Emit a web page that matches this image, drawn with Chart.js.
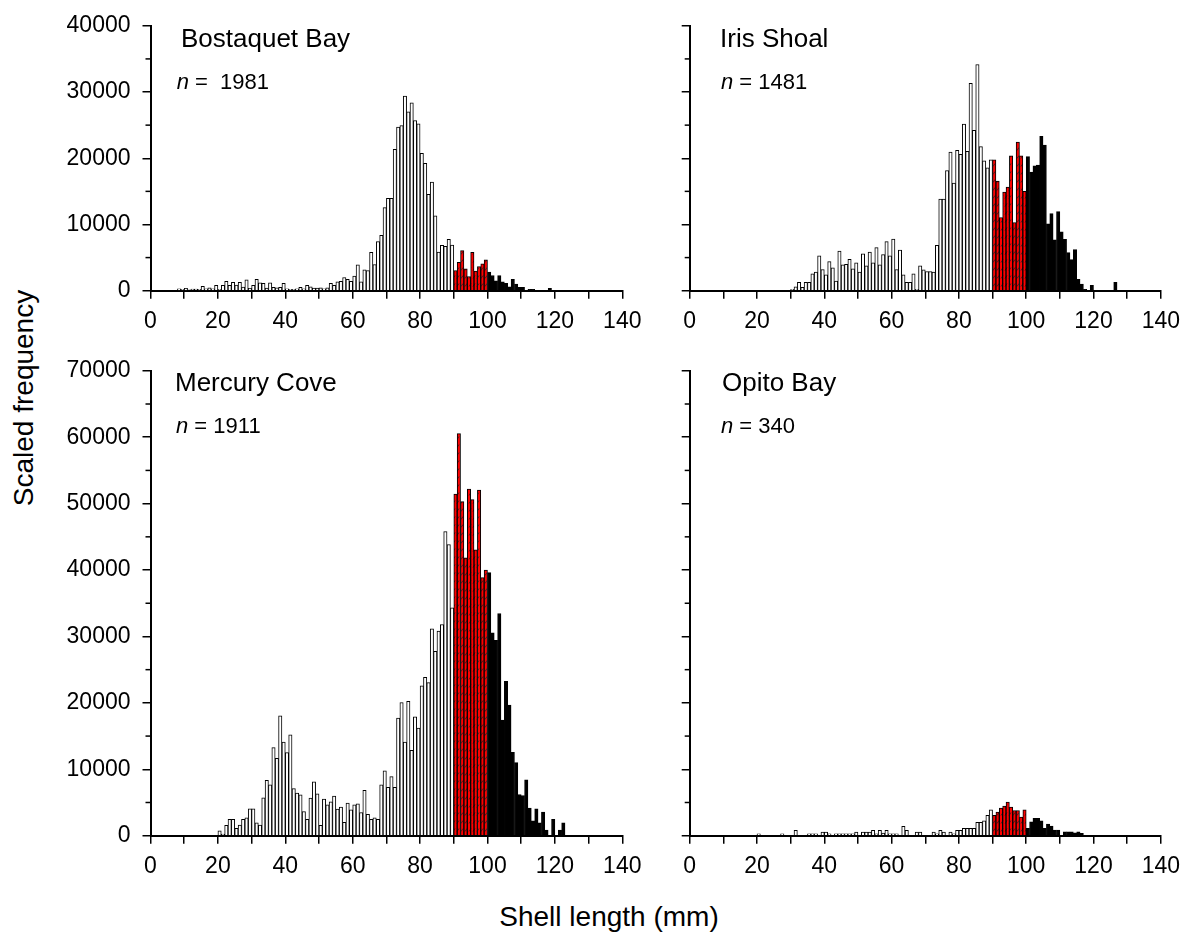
<!DOCTYPE html>
<html>
<head>
<meta charset="utf-8">
<script src="https://cdn.jsdelivr.net/npm/chart.js@4.4.0/dist/chart.umd.min.js"></script>
<style>
  body { margin: 0; background: #fff; width: 1189px; height: 936px; position: relative; overflow: hidden;
         font-family: 'Liberation Sans', Arial, sans-serif; color: #000; }
  canvas { position: absolute; }
  .lbl { position: absolute; white-space: pre; line-height: 1; }
  .title { font-size: 26px; }
  .n { font-size: 22px; }
  .axis { font-size: 28px; }
</style>
</head>
<body>
<canvas id="bostaquet" width="620" height="345" style="left:40px;top:0px"></canvas>
<canvas id="iris" width="529" height="345" style="left:660px;top:0px"></canvas>
<canvas id="mercury" width="620" height="545" style="left:40px;top:345px"></canvas>
<canvas id="opito" width="529" height="545" style="left:660px;top:345px"></canvas>

<div class="lbl title" style="left:181px;top:24.7px">Bostaquet Bay</div>
<div class="lbl n" style="left:176.7px;top:70.7px"><i>n</i> =  1981</div>
<div class="lbl title" style="left:720px;top:24.7px">Iris Shoal</div>
<div class="lbl n" style="left:721px;top:70.7px"><i>n</i> = 1481</div>
<div class="lbl title" style="left:175px;top:368.7px">Mercury Cove</div>
<div class="lbl n" style="left:176px;top:414.7px"><i>n</i> = 1911</div>
<div class="lbl title" style="left:722px;top:368.7px">Opito Bay</div>
<div class="lbl n" style="left:721px;top:414.7px"><i>n</i> = 340</div>
<div class="lbl axis" style="left:609px;top:903.3px;transform:translateX(-50%)">Shell length (mm)</div>
<div class="lbl axis" style="left:24.3px;top:398px;transform:translate(-50%,-50%) rotate(-90deg)">Scaled frequency</div>

<script>
// shell length bins are 1 mm wide; counts are scaled frequencies per bin
const bostaquetFirstBin = 8;
const bostaquetCounts = [
  300, 200, 350, 150, 250, 250, 200, 650, 300, 450, 300, 800,          // 8-19
  200, 800, 1400, 800, 1250, 850, 1250, 550, 1650, 350,                // 20-29
  800, 1700, 1200, 1100, 400, 1200, 500, 450, 500, 1100,               // 30-39
  300, 200, 200, 300, 500, 300, 800, 600, 400, 400,                    // 40-49
  450, 300, 450, 1100, 800, 1350, 1400, 2000, 1700, 1400,              // 50-59
  2200, 3900, 1350, 3150, 3050, 5800, 3950, 7400, 8350, 12550,         // 60-69
  13950, 13950, 21350, 24700, 24950, 29400, 27000, 28350, 25700, 25200,// 70-79
  20750, 19250, 14550, 16400, 11300, 5850, 6850, 6700, 7750, 6900,     // 80-89
  3050, 4300, 6050, 3300, 2150, 5800, 2950, 3650, 4050, 4650,          // 90-99
  2800, 2300, 1500, 2300, 1350, 1100, 600, 1700, 1000, 500,            // 100-109
  500, 100, 200, 200, 100, 100, 100, 100, 350                          // 110-118
];

const irisFirstBin = 30;
const irisCounts = [
  200, 600, 1250, 500, 1250, 1250, 2550, 2800, 5250, 3200,             // 30-39
  2400, 4400, 3450, 1450, 6000, 3900, 4000, 4750, 3300, 4200,          // 40-49
  2800, 5550, 3750, 5850, 4200, 6500, 3900, 5450, 7400, 5250,          // 50-59
  7800, 3200, 6150, 2400, 1250, 1250, 2550, 200, 3750, 3150,           // 60-69
  2900, 2900, 2800, 6850, 13850, 13850, 18150, 20950, 16250, 21200,    // 70-79
  20600, 25150, 21050, 31300, 24200, 34150, 21750, 19600, 18550, 19750,// 80-89
  19750, 16550, 11050, 14900, 15650, 20350, 10300, 22450, 20350, 15000,// 90-99
  20250, 17900, 18850, 18950, 23300, 22000, 10100, 11650, 7700, 11950, // 100-109
  8900, 7750, 5750, 4700, 6200, 1700, 1000, 200, 0, 800,               // 110-119
  0, 0, 0, 0, 0, 0, 1250                                               // 120-126
];

const mercuryFirstBin = 20;
const mercuryCounts = [
  750, 250, 1550, 2450, 2450, 1100, 1600, 2450, 2700, 4050,            // 20-29
  4050, 1950, 1600, 5700, 8350, 7650, 13250, 11650, 18050, 14100,      // 30-39
  12500, 15200, 7100, 6400, 6150, 3650, 2450, 5650, 8100, 6300,        // 40-49
  1550, 5500, 4650, 5100, 5950, 4000, 4300, 2000, 4900, 3900,          // 50-59
  4650, 4800, 3500, 6850, 3200, 2450, 2700, 2450, 7650, 9750,          // 60-69
  7300, 8900, 7300, 17700, 20050, 14100, 20250, 12850, 17900, 16200,   // 70-79
  22550, 23850, 23050, 31150, 27750, 30800, 31800, 45800, 43850, 34300,// 80-89
  51450, 60550, 50300, 41850, 52200, 50600, 43050, 52050, 38850, 40000,// 90-99
  39600, 30550, 29400, 33450, 17400, 23250, 19650, 12550, 11000, 6200, // 100-109
  6050, 8400, 4150, 2250, 4050, 1950, 3550, 850, 0, 2450,              // 110-119
  0, 850, 1950                                                         // 120-122
];

const opitoFirstBin = 20;
const opitoCounts = [
  300, 0, 0, 0, 0, 0, 0, 300, 0, 0,                                    // 20-29
  0, 800, 0, 0, 0, 300, 300, 300, 0, 550,                              // 30-39
  550, 300, 0, 300, 300, 300, 300, 300, 300, 550,                      // 40-49
  0, 550, 550, 550, 800, 300, 800, 400, 800, 300,                      // 50-59
  300, 300, 0, 1400, 800, 0, 0, 550, 550, 0,                           // 60-69
  0, 0, 550, 300, 800, 550, 0, 550, 300, 800,                          // 70-79
  800, 1100, 1100, 1100, 1100, 2000, 2000, 2250, 3050, 3900,           // 80-89
  3050, 3550, 4150, 4450, 5050, 4300, 3800, 3800, 2800, 3900,          // 90-99
  1100, 2100, 2600, 2600, 2250, 1100, 1750, 1450, 850, 850,            // 100-109
  0, 600, 600, 600, 450, 600, 350                                      // 110-116
];

const siteNames = ['Bostaquet Bay', 'Iris Shoal', 'Mercury Cove', 'Opito Bay'];
const xTickLabels = [0, 20, 40, 60, 80, 100, 120, 140];
const yTopMax = 40000;
const yBottomMax = 70000;
const redFrom = 90;    // hatched red bars from this length
const blackFrom = 100; // solid black bars from this length

const FONT = "'Liberation Sans', Arial, sans-serif";

function makeHatch() {
  const c = document.createElement('canvas');
  c.width = 4; c.height = 8;
  const g = c.getContext('2d');
  g.fillStyle = '#ff0000';
  g.fillRect(0, 0, 4, 8);
  g.strokeStyle = '#222';
  g.lineWidth = 0.8;
  g.beginPath();
  g.moveTo(1, 6.5);
  g.lineTo(3, 3.5);
  g.stroke();
  return g.createPattern(c, 'repeat');
}
const hatch = makeHatch();

// short minor ticks on the y axis (every 5000)
const minorTicks = {
  id: 'minorTicks',
  afterDraw(chart) {
    const y = chart.scales.y;
    const ctx = chart.ctx;
    ctx.save();
    ctx.strokeStyle = '#000';
    ctx.lineWidth = 1.5;
    y.ticks.forEach(t => {
      if (t.value % 10000 !== 0) {
        const py = y.getPixelForValue(t.value);
        ctx.beginPath();
        ctx.moveTo(y.right - 5, py);
        ctx.lineTo(y.right, py);
        ctx.stroke();
      }
    });
    ctx.restore();
  }
};

function makeChart(id, firstBin, counts, yMax, yLabels, yWidth, padTop, padRight) {
  const points = counts.map((v, i) => ({ x: firstBin + i + 0.5, y: v }));
  return new Chart(document.getElementById(id), {
    type: 'bar',
    data: {
      datasets: [{
        data: points,
        backgroundColor: c => {
          const bin = firstBin + c.dataIndex;
          return bin >= blackFrom ? '#000' : (bin >= redFrom ? hatch : '#fff');
        },
        borderColor: '#000',
        borderWidth: 1,
        barPercentage: 1,
        categoryPercentage: 1
      }]
    },
    options: {
      responsive: false,
      animation: false,
      layout: { padding: { top: padTop, right: padRight, bottom: 0, left: 0 } },
      plugins: { legend: { display: false }, tooltip: { enabled: false } },
      scales: {
        x: {
          type: 'linear', min: 0, max: 140, offset: false,
          grid: { offset: false, drawOnChartArea: false, drawTicks: true, tickLength: 8, color: '#000', lineWidth: 1.5 },
          border: { display: true, color: '#000', width: 2 },
          ticks: {
            stepSize: 10, autoSkip: false, maxRotation: 0, padding: 9, color: '#000',
            font: { family: FONT, size: 23 },
            callback: v => xTickLabels.includes(v) ? String(v) : ''
          },
          afterFit: s => { s.height = 54.3; }
        },
        y: {
          type: 'linear', min: 0, max: yMax,
          grid: {
            drawOnChartArea: false, drawTicks: true, tickLength: 8, lineWidth: 1.5,
            color: c => (c.tick && c.tick.value % 10000 === 0) ? '#000' : 'rgba(0,0,0,0)'
          },
          border: { display: true, color: '#000', width: 2 },
          ticks: {
            stepSize: 5000, autoSkip: false, padding: 12, color: '#000',
            font: { family: FONT, size: 23 },
            callback: v => (yLabels && v % 10000 === 0) ? String(v) : ''
          },
          afterFit: s => { s.width = yWidth; }
        }
      }
    },
    plugins: [minorTicks]
  });
}

makeChart('bostaquet', bostaquetFirstBin, bostaquetCounts, yTopMax, true, 110.5, 20.7, 37.7);
makeChart('iris', irisFirstBin, irisCounts, yTopMax, false, 29.7, 20.7, 27.9);
makeChart('mercury', mercuryFirstBin, mercuryCounts, yBottomMax, true, 110.5, 19.7, 37.7);
makeChart('opito', opitoFirstBin, opitoCounts, yBottomMax, false, 29.7, 19.7, 27.9);
</script>
</body>
</html>
